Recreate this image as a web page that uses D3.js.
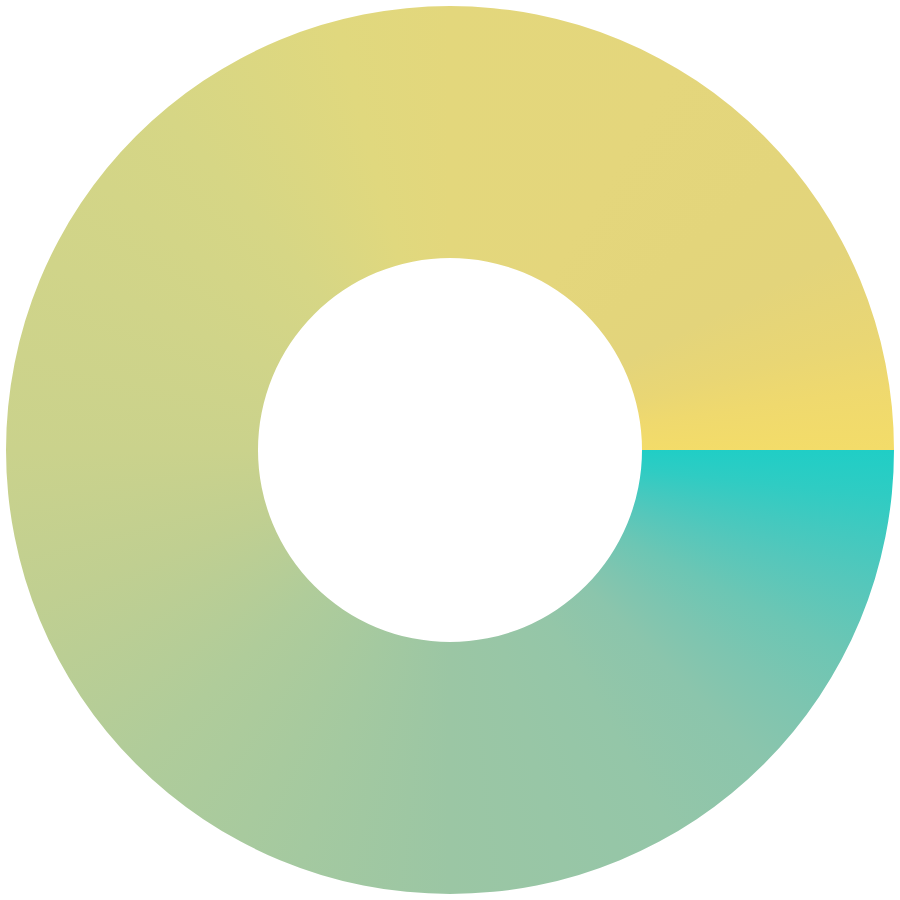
<!DOCTYPE html>
<html>
<head>
<meta charset="utf-8">
<script src="https://cdn.jsdelivr.net/npm/d3@7"></script>
<style>
  html, body { margin: 0; padding: 0; background: #ffffff; }
  svg { display: block; }
</style>
</head>
<body>
<div id="chart"></div>
<script>
// Data: a single full ring
const categories = ["Total"];
const values = [100];

// Gradient stops (degrees clockwise from 3 o'clock) and their colours
const stopAngles = [0, 6, 12, 18, 27, 36, 45, 60, 75, 90, 110, 135, 160, 180, 205, 230, 255, 270, 300, 320, 333, 345, 352, 360];
const stopColors = ["#20cec6", "#2fccc3", "#43c9bf", "#55c7bb", "#6cc6b4", "#7dc5b0", "#8bc5ac", "#94c6a8", "#98c6a6", "#9bc6a4", "#a4c9a0", "#b0cc9a", "#c0cf91", "#cad28c", "#d0d489", "#d6d685", "#e0d87e", "#e3d77c", "#e4d67c", "#e3d57b", "#e3d47b", "#e9d674", "#efd96e", "#f3dc69"];

const W = 900, H = 900;
const cx = 450, cy = 450;
const outerR = 444, innerR = 192;

const svg = d3.select("#chart").append("svg")
  .attr("width", W).attr("height", H)
  .attr("viewBox", [0, 0, W, H]);

const pie = d3.pie().sort(null)
  .startAngle(Math.PI / 2)
  .endAngle(Math.PI / 2 + 2 * Math.PI);

const arc = d3.arc().innerRadius(innerR).outerRadius(outerR);

const arcs = pie(values);

const defs = svg.append("defs");
defs.append("clipPath").attr("id", "ringClip")
  .selectAll("path").data(arcs).join("path")
  .attr("transform", `translate(${cx},${cy})`)
  .attr("d", arc);

const conic = "conic-gradient(from 90deg at 50% 50%, " +
  stopColors.map((c, i) => `${c} ${stopAngles[i]}deg`).join(", ") + ")";

const g = svg.append("g").attr("clip-path", "url(#ringClip)");
g.append("foreignObject")
  .attr("x", cx - outerR - 2).attr("y", cy - outerR - 2)
  .attr("width", 2 * outerR + 4).attr("height", 2 * outerR + 4)
  .append("xhtml:div")
  .style("width", (2 * outerR + 4) + "px")
  .style("height", (2 * outerR + 4) + "px")
  .style("background", conic);
</script>
</body>
</html>
